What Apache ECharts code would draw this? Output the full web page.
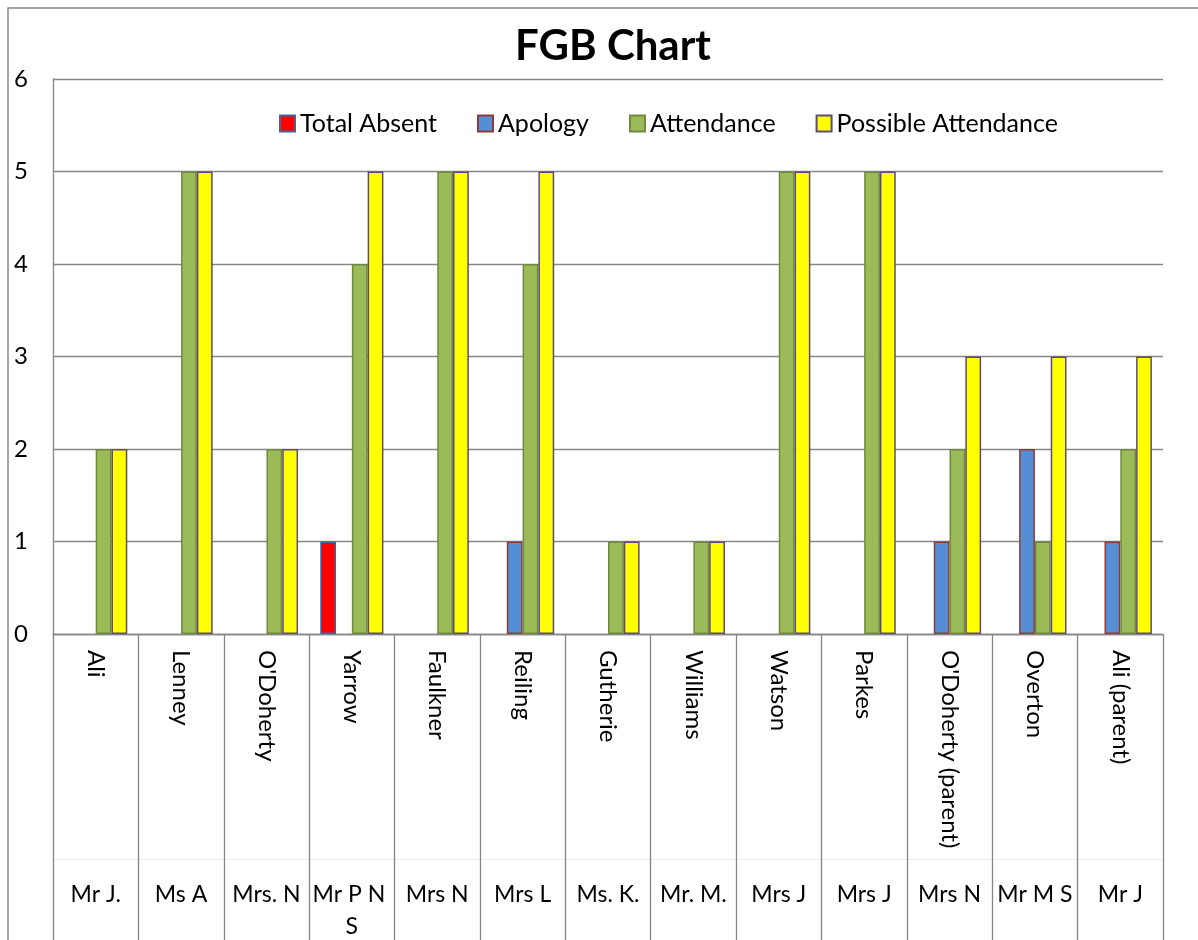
<!DOCTYPE html>
<html>
<head>
<meta charset="utf-8">
<script src="https://cdn.jsdelivr.net/npm/echarts@6/dist/echarts.min.js"></script>
<style>
  html, body { margin: 0; padding: 0; background: #fff; }
  #main { width: 1198px; height: 940px; }
</style>
</head>
<body>
<div id="main"></div>
<script>
// two-level category axis: surname (rotated) and title below
var surnames = ['Ali', 'Lenney', "O'Doherty", 'Yarrow', 'Faulkner', 'Reiling', 'Gutherie', 'Williams', 'Watson', 'Parkes', "O'Doherty (parent)", 'Overton', 'Ali (parent)'];
var titles = ['Mr J.', 'Ms A', 'Mrs. N', 'Mr P N S', 'Mrs N', 'Mrs L', 'Ms. K.', 'Mr. M.', 'Mrs J', 'Mrs J', 'Mrs N', 'Mr M S', 'Mr J'];
var totalAbsent = [0, 0, 0, 1, 0, 0, 0, 0, 0, 0, 0, 0, 0];
var apology = [0, 0, 0, 0, 0, 1, 0, 0, 0, 0, 1, 2, 1];
var attendance = [2, 5, 2, 4, 5, 4, 1, 1, 5, 5, 2, 1, 2];
var possible = [2, 5, 2, 5, 5, 5, 1, 1, 5, 5, 3, 3, 3];

var font = 'Lato';
var gray = '#868686';

var chart = echarts.init(document.getElementById('main'));

function barSeries(name, data, fill, border) {
    return {
        name: name,
        type: 'bar',
        // excel leaves zero bars out, so no border line on the baseline
        data: data.map(function (v) { return v === 0 ? '-' : v; }),
        barGap: '0%',
        barCategoryGap: '26%',
        itemStyle: { color: fill, borderColor: border, borderWidth: 1.5 }
    };
}

var option = {
    backgroundColor: '#fff',
    animation: false,
    title: {
        text: 'FGB Chart',
        left: 608,
        textAlign: 'center',
        top: 20,
        textStyle: { fontFamily: font, fontSize: 42, fontWeight: 'bold', color: '#000' }
    },
    graphic: [{
        type: 'rect',
        shape: { x: 8, y: 8, width: 1300, height: 1100 },
        style: { fill: 'none', stroke: '#888', lineWidth: 1.5 },
        silent: true
    }],
    legend: {
        left: 274,
        top: 106,
        itemWidth: 15,
        itemHeight: 16,
        itemGap: 40,
        icon: 'rect',
        textStyle: { fontFamily: font, fontSize: 25, color: '#000' },
        data: ['Total Absent', 'Apology', 'Attendance', 'Possible Attendance']
    },
    grid: { left: 53, right: 35, top: 79, bottom: 306, outerBoundsMode: 'none' },
    xAxis: [{
        type: 'category',
        data: surnames,
        position: 'bottom',
        axisLine: { lineStyle: { color: gray, width: 1.3 } },
        axisTick: { show: true, interval: 0, length: 310, lineStyle: { color: gray, width: 1.3 } },
        axisLabel: { interval: 0, rotate: -90, margin: 16, fontFamily: font, fontSize: 24, color: '#000' }
    }, {
        type: 'category',
        data: titles,
        position: 'bottom',
        offset: 225,
        axisLine: { lineStyle: { color: '#ececec', width: 1 } },
        axisTick: { show: false },
        axisLabel: {
            interval: 0, margin: 20, fontFamily: font, fontSize: 23, color: '#000',
            width: 80, overflow: 'break', lineHeight: 32
        }
    }],
    yAxis: {
        type: 'value',
        min: 0,
        max: 6,
        interval: 1,
        axisLine: { show: true, lineStyle: { color: gray, width: 1.3 } },
        axisTick: { show: false },
        splitLine: { lineStyle: { color: gray, width: 1.3 } },
        axisLabel: { margin: 25, fontFamily: font, fontSize: 24, color: '#000' }
    },
    series: [
        barSeries('Total Absent', totalAbsent, '#FF0000', '#41669A'),
        barSeries('Apology', apology, '#558ED5', '#8E3B38'),
        barSeries('Attendance', attendance, '#9BBB59', '#71893F'),
        barSeries('Possible Attendance', possible, '#FFFF00', '#604A7B')
    ]
};

chart.setOption(option);
</script>
</body>
</html>
